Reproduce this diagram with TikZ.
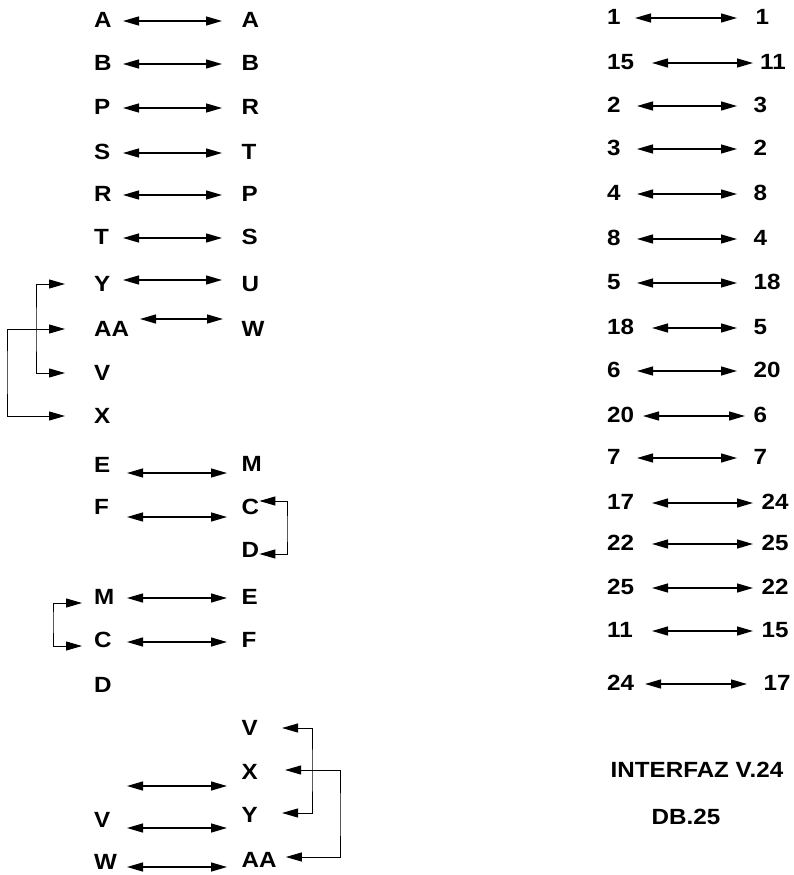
\documentclass[tikz,border=0pt]{standalone}
\usepackage{fontspec}
\setmainfont{Liberation Sans}[FakeStretch=1.1]
\usetikzlibrary{arrows.meta}

\tikzset{
  pin/.style={anchor=west, inner sep=0pt, font=\bfseries\fontsize{22}{26}\selectfont},
  link/.style={{Triangle[length=16pt,width=9pt]}-{Triangle[length=16pt,width=9pt]}, line width=1.3pt},
  jump/.style={link, line width=1pt},
}

\begin{document}
\begin{tikzpicture}[x=1pt, y=-1pt]
  \useasboundingbox (0,0) rectangle (793,875);

  % left block, straight pairs
  \foreach \a/\b/\y [count=\i] in {A/A/20, B/B/63, P/R/107, S/T/152, R/P/194, T/S/237}{
    \node[pin] (pl\i) at (94,\y) {\a};
    \node[pin] (pr\i) at (241.5,\y) {\b};
    \draw[link] ([xshift=29pt,yshift=-1pt]pl\i.west) -- ([xshift=-19.5pt,yshift=-1pt]pr\i.west);
  }

  % Y AA V X
  \node[pin] (lY) at (94,284) {Y};
  \node[pin] (rU) at (241.5,284) {U};
  \node[pin] (lAA) at (94,329) {AA};
  \node[pin] (rW) at (241.5,329) {W};
  \node[pin] (lV) at (94,373) {V};
  \node[pin] (lX) at (94,416) {X};
  \draw[link] ([xshift=29pt,yshift=4pt]lY.west) -- ([xshift=-19.5pt,yshift=4pt]rU.west);
  \draw[link] ([xshift=46pt,yshift=10pt]lAA.west) -- ([xshift=-18.5pt,yshift=10pt]rW.west);
  \coordinate (busYV) at (36,330);
  \coordinate (busAX) at (7,372);
  \draw[jump] ([xshift=-29pt]lY.west) -| (busYV) |- ([xshift=-29pt]lV.west);
  \draw[jump] ([xshift=-29pt]lAA.west) -| (busAX) |- ([xshift=-29pt]lX.west);

  % E F -- M C D
  \node[pin] (lE) at (94,465) {E};
  \node[pin] (rM) at (241.5,464) {M};
  \node[pin] (lF) at (94,507) {F};
  \node[pin] (rC) at (241.5,507) {C};
  \node[pin] (rD) at (241.5,550) {D};
  \draw[link] ([xshift=33pt,yshift=-8pt]lE.west) -- ([xshift=-14.5pt,yshift=-9pt]rM.west);
  \draw[link] ([xshift=33pt,yshift=-10pt]lF.west) -- ([xshift=-14.5pt,yshift=-10pt]rC.west);
  \coordinate (busCD) at (287,530);
  \draw[jump] ([yshift=6pt]rC.east) -| (busCD) |- ([yshift=-4pt]rD.east);

  % M C D -- E F
  \node[pin] (lM) at (94,597) {M};
  \node[pin] (rE) at (241.5,597) {E};
  \node[pin] (lC) at (94,640) {C};
  \node[pin] (rF) at (241.5,640) {F};
  \node[pin] (lD) at (94,685) {D};
  \draw[link] ([xshift=33pt,yshift=-1pt]lM.west) -- ([xshift=-14.5pt,yshift=-1pt]rE.west);
  \draw[link] ([xshift=33pt,yshift=-2pt]lC.west) -- ([xshift=-14.5pt,yshift=-2pt]rF.west);
  \coordinate (busMC) at (53,620);
  \draw[jump] ([xshift=-12pt,yshift=-6pt]lM.west) -| (busMC) |- ([xshift=-12pt,yshift=-6pt]lC.west);

  % bottom block
  \node[pin] (bV) at (241.5,728) {V};
  \node[pin] (bX) at (241.5,772) {X};
  \node[pin] (bY) at (241.5,815) {Y};
  \node[pin] (bAA) at (241.5,860) {AA};
  \node[pin] (cV) at (94,820) {V};
  \node[pin] (cW) at (94,862) {W};
  \coordinate (freeL) at (127,786);
  \coordinate (freeR) at (227,786);
  \draw[link] (freeL) -- (freeR);
  \draw[link] ([xshift=33pt,yshift=-8pt]cV.west) -- ([xshift=-14.5pt,yshift=-13pt]bY.west);
  \draw[link] ([xshift=33pt,yshift=-5pt]cW.west) -- ([xshift=-14.5pt,yshift=-7pt]bAA.west);
  \coordinate (busVY) at (312,770);
  \coordinate (busXA) at (340,815);
  \draw[jump] ([xshift=24pt]bV.east) -| (busVY) |- ([xshift=24pt,yshift=2pt]bY.east);
  \draw[jump] ([xshift=27pt,yshift=2pt]bX.east) -| (busXA) |- ([xshift=9pt,yshift=3pt]bAA.east);

  % right block, V.24 / DB.25
  \foreach \a/\b/\xb/\y/\so/\eo [count=\i] in {
      1/1/755.5/17/28/-18.5, 15/11/760/62/45/-7, 2/3/753.5/105/30/-16.5,
      3/2/753.5/148/30/-16.5, 4/8/753.5/193/30/-16.5, 8/4/753.5/238/30/-16.5,
      5/18/753.5/282/30/-16.5, 18/5/753.5/327/45/-16.5, 6/20/753.5/370/30/-16.5,
      20/6/753.5/415/36/-8.5, 7/7/753.5/457/30/-16.5, 17/24/761.5/502/45/-8.5,
      22/25/761.5/543/45/-8.5, 25/22/761.5/587/45/-8.5, 11/15/761.5/630/45/-8.5,
      24/17/763.5/683/38/-16.5}{
    \node[pin] (ql\i) at (607,\y) {\a};
    \node[pin] (qr\i) at (\xb,\y) {\b};
    \draw[link] ([xshift=\so,yshift=-1pt]ql\i.west) -- ([xshift=\eo,yshift=-1pt]qr\i.west);
  }
  \node[pin] (title) at (610.5,770) {INTERFAZ V.24};
  \node[pin] (subtitle) at (651.5,817) {DB.25};
\end{tikzpicture}
\end{document}
